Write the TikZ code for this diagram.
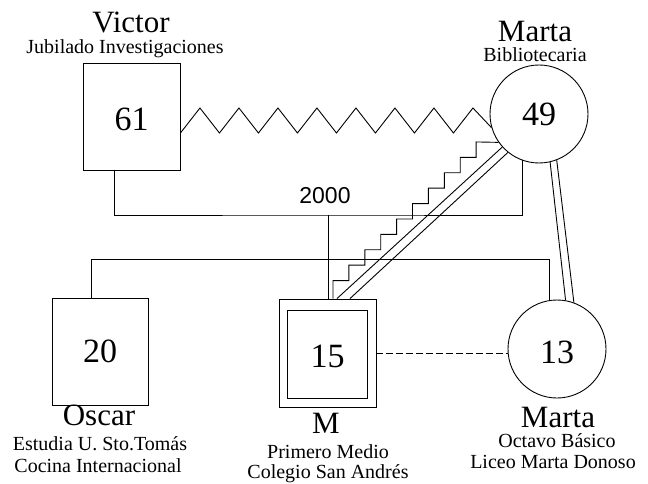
\documentclass[tikz,border=0pt]{standalone}
\usepackage{fontspec}
\setmainfont{Liberation Serif}
\newfontfamily\sansf{Liberation Sans}
\newcommand{\numlow}[1]{\raisebox{-3pt}[\height][0pt]{#1}}
\begin{document}
\begin{tikzpicture}[x=1pt,y=-1pt, line width=0.9pt,
  box/.style={draw, rectangle, inner sep=0pt, font=\fontsize{34}{34}\selectfont},
  circ/.style={draw, circle, inner sep=0pt, minimum size=98pt, font=\fontsize{34}{34}\selectfont},
  namelabel/.style={anchor=base, inner sep=0pt, font=\fontsize{31}{31}\selectfont},
  infolabel/.style={anchor=base, inner sep=0pt, font=\fontsize{20}{20}\selectfont}]
\useasboundingbox (0,0) rectangle (648,484);

% persons
\node[box, minimum width=97pt, minimum height=107pt] (victor) at (131.5,116.5) {\numlow{61}};
\node[circ] (marta) at (539,114) {49};
\node[box, minimum width=96pt, minimum height=107pt] (oscar) at (100,351.5) {20};
\node[box, minimum width=97pt, minimum height=108pt] (m) at (327.5,353) {\numlow{15}};
\draw ([shift={(9,12)}]m.north west) rectangle ([shift={(-9,-9)}]m.south east);
\node[circ] (marta2) at (557,349) {\numlow{13}};

% zigzag relation
\coordinate (zs) at ([yshift=-16.5pt]victor.east);
\draw (zs) \foreach \k in {1,...,7}{ -- ++(19.5,-25) -- ++(19.5,25)} -- ++(19.5,-25) -- (marta.196);

% marriage line
\coordinate (j) at (328,215);
\draw ([xshift=-17.5pt]victor.south) |- (j) -| (marta.250);
\draw (j) -- (j |- m.north);
\node[anchor=base, inner sep=0pt, font=\sansf\fontsize{23}{23}\selectfont] (year) at (325,203) {2000};

% siblings line
\draw ([xshift=-9pt]oscar.north) -- ++(0,-38) -| (marta2.99);

% staircase relation
\draw ([xshift=5.5pt]m.north) -- ++(0,-18) \foreach \k in {1,...,9}{ -- ++(15.9,0) -- ++(0,-15.4)} -- (marta.215);

% double line M - Marta
\draw ([xshift=9.5pt]m.north) -- (marta.222.6);
\draw ([xshift=22.5pt]m.north) -- (marta.231.5);

% double line Marta - Marta
\draw (marta.283) -- (marta2.80);
\draw (marta.291) -- (marta2.70.4);

% dashed relation
\draw[dash pattern=on 7pt off 3pt] (m.east) -- (m.east -| marta2.west);

% labels
\node[namelabel] (lvictor) at (131,33) {Victor};
\node[infolabel] (lvictorb) at (125,54) {Jubilado Investigaciones};
\node[namelabel] (lmarta) at (535,42) {Marta};
\node[infolabel] (lmartab) at (535,62) {Bibliotecaria};
\node[namelabel] (loscar) at (99,425) {Oscar};
\node[infolabel] (loscarb) at (100,450) {Estudia U. Sto.Tomás};
\node[infolabel] (loscarc) at (98,472) {Cocina Internacional};
\node[namelabel] (lm) at (326,433) {M};
\node[infolabel] (lmb) at (328,458) {Primero Medio};
\node[infolabel] (lmc) at (328,478) {Colegio San Andrés};
\node[namelabel] (lmarta2) at (558,427) {Marta};
\node[infolabel] (lmarta2b) at (557,447) {Octavo Básico};
\node[infolabel] (lmarta2c) at (553,468) {Liceo Marta Donoso};
\end{tikzpicture}
\end{document}
